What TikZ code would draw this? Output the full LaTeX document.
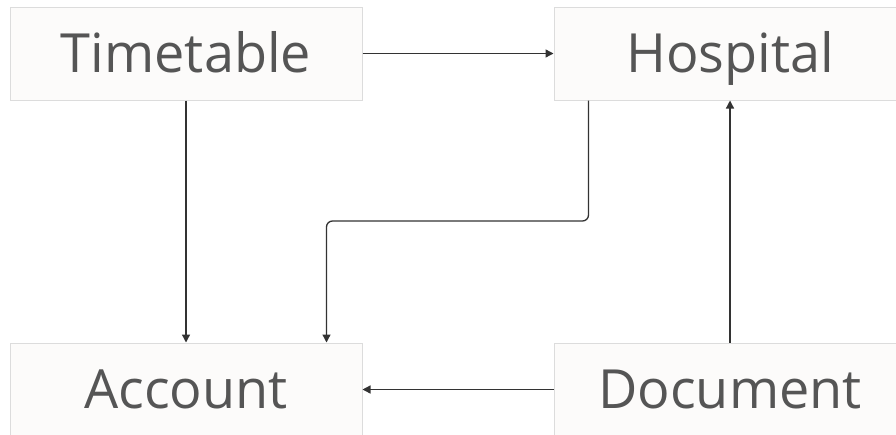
\documentclass[tikz,border=0pt]{standalone}
\usepackage{fontspec}
\setmainfont{Open Sans}
\usetikzlibrary{arrows.meta,calc}
\definecolor{boxfill}{HTML}{FCFBFA}
\definecolor{boxline}{HTML}{DCDCDC}
\definecolor{boxtext}{HTML}{555555}
\definecolor{wire}{HTML}{333333}
\begin{document}
\begin{tikzpicture}[x=1pt,y=-1pt,
  entity/.style={draw=boxline,fill=boxfill,line width=1pt,rectangle,
    minimum width=352pt,minimum height=93pt,inner sep=0pt,
    text height=38.6pt,text depth=0pt,
    text=boxtext,font=\fontsize{54}{56}\selectfont},
  link/.style={draw=wire,line width=1.3pt,rounded corners=6pt,
    -{Triangle[length=8pt,width=8pt]}}]
\useasboundingbox (0,0) rectangle (896,434);
\node[entity] (timetable) at (186,53.5) {Timetable};
\node[entity] (hospital) at (730,53.5) {Hospital};
\node[entity] (account) at (186,389.5) {Account};
\node[entity] (document) at (730,389.5) {Document};
% connectors
\draw[link] (timetable.east) -- (hospital.west);
\draw[link] (timetable.south) -- (account.north);
\draw[link] ([xshift=35pt]hospital.south west) |- (460,221) -| ([xshift=317pt]account.north west);
\draw[link] (document.north) -- (hospital.south);
\draw[link] (document.west) -- (account.east);
\end{tikzpicture}
\end{document}
